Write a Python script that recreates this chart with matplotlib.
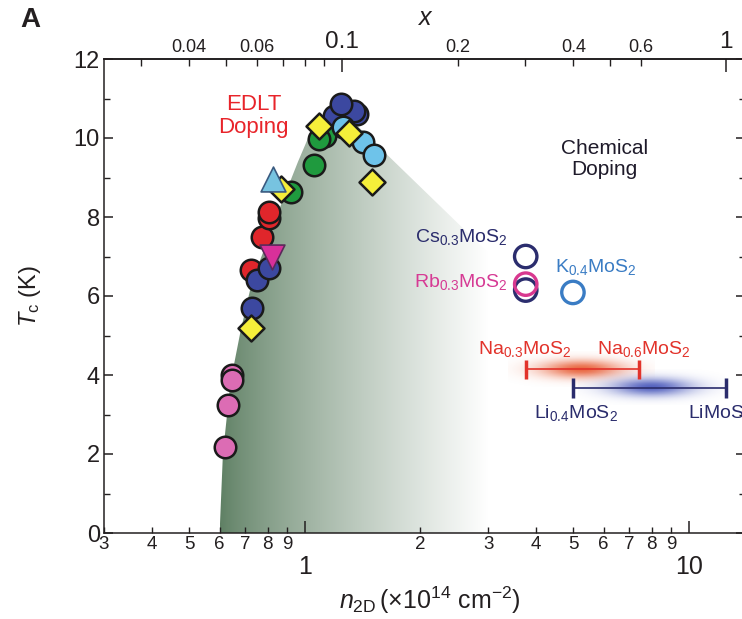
import numpy as np
import matplotlib
matplotlib.use('Agg')
import matplotlib.pyplot as plt
from matplotlib.patches import Polygon

plt.rcParams['font.family'] = ['Liberation Sans', 'DejaVu Sans']
plt.rcParams['mathtext.fontset'] = 'custom'
plt.rcParams['mathtext.rm'] = 'Liberation Sans'
plt.rcParams['mathtext.it'] = 'Liberation Sans:italic'
plt.rcParams['mathtext.bf'] = 'Liberation Sans:bold'

# ---- data (n in 1e14 cm^-2, Tc in K) ----
pink_n = [0.645, 0.645, 0.631, 0.619]
pink_T = [4.00, 3.88, 3.25, 2.18]
red_n = [0.724, 0.773, 0.806, 0.806]
red_T = [6.67, 7.49, 7.97, 8.12]
green_n = [0.92, 1.055, 1.13, 1.09]
green_T = [8.63, 9.32, 10.05, 9.97]
navy_n = [0.728, 0.75, 0.806, 1.19, 1.37, 1.34, 1.24]
navy_T = [5.69, 6.40, 6.72, 10.55, 10.60, 10.69, 10.86]
lblue_n = [1.26, 1.42, 1.51]
lblue_T = [10.28, 9.90, 9.57]
yellow_n = [0.724, 0.866, 1.087, 1.30, 1.50]
yellow_T = [5.18, 8.70, 10.30, 10.13, 8.88]
tri_up_n, tri_up_T = [0.826], [8.96]
tri_dn_n, tri_dn_T = [0.82], [6.98]

# chemical doping
cs_n, cs_T = 3.76, 7.00
rb_n, rb_T = 3.76, 6.30
rb2_n, rb2_T = 3.76, 6.15
k_n, k_T = 4.99, 6.09
na_range, na_T = [3.76, 7.41], 4.14
li_range, li_T = [4.99, 12.5], 3.68
na_peak = 5.24
li_peak = 7.96

# dome outline of the superconducting region
dome_n = [0.60, 0.612, 0.64, 0.68, 0.73, 0.80, 0.866, 0.96, 1.02, 1.10, 1.20, 3.0, 3.0]
dome_T = [0.0, 2.0, 3.8, 5.1, 6.4, 7.4, 8.3, 9.4, 10.0, 10.5, 10.85, 7.1, 0.0]

x_per_n = 1 / 12.5   # x in A_xMoS2 per 1e14 cm^-2

xmin, xmax = 0.3, 14.0
dark = '#231f20'

fig = plt.figure(figsize=(7.42, 6.19), dpi=100)
ax = fig.add_axes([104 / 742, 86 / 619, 641 / 742, 474 / 619])
ax.set_xscale('log')
ax.set_xlim(xmin, xmax)
ax.set_ylim(0, 12)
ax.autoscale(False)

def fx(n):
    return (np.log10(n) - np.log10(xmin)) / (np.log10(xmax) - np.log10(xmin))

# gradient dome
t = np.linspace(0, 1, 256)
c0 = np.array([0.37, 0.50, 0.39])
grad = c0[None, :] + (1 - c0[None, :]) * (t ** 0.8)[:, None]
img = grad[None, :, :]
poly = Polygon(np.column_stack([dome_n, dome_T]), closed=True,
               facecolor='none', edgecolor='none', transform=ax.transData)
ax.add_patch(poly)
im = ax.imshow(img, extent=(fx(0.6), fx(3.0), 0, 1), transform=ax.transAxes,
               aspect='auto', zorder=1, interpolation='bilinear')
im.set_clip_path(poly)

# glows
def glow(center, span, T, dT, rgb):
    u = np.linspace(-1, 1, 200)
    v = np.linspace(-1, 1, 60)
    U, V = np.meshgrid(u, v)
    a = np.exp(-(U / 0.55) ** 2 - (V / 0.5) ** 2)
    rgba = np.zeros((60, 200, 4))
    rgba[..., :3] = rgb
    rgba[..., 3] = a * 0.95
    x0 = fx(center / span)
    x1 = fx(center * span)
    y0 = (T - dT) / 12
    y1 = (T + dT) / 12
    ax.imshow(rgba, extent=(x0, x1, y0, y1), transform=ax.transAxes,
              aspect='auto', zorder=2, interpolation='bilinear')

glow(na_peak, 1.55, na_T, 0.45, (0.91, 0.38, 0.22))
glow(li_peak, 1.55, li_T, 0.45, (0.30, 0.36, 0.74))

# bars
ax.plot(na_range, [na_T, na_T], color='#e2332b', lw=1.2, zorder=3)
ax.vlines(na_range, na_T - 0.25, na_T + 0.25, color='#e2332b', lw=2.5, zorder=3)
ax.plot(li_range, [li_T, li_T], color='#2a2c6c', lw=1.2, zorder=3)
ax.vlines(li_range, li_T - 0.25, li_T + 0.25, color='#2a2c6c', lw=2.5, zorder=3)

# EDLT points
kw = dict(edgecolors='#1a1a1a', linewidths=1.8, zorder=5)
ax.scatter(pink_n, pink_T, s=240, c='#dc6cb4', **kw)
ax.scatter(red_n, red_T, s=240, c='#e0262b', **kw)
ax.scatter(green_n, green_T, s=240, c='#1f9a3e', **kw)
ax.scatter(navy_n, navy_T, s=240, c='#3c48a0', **kw)
ax.scatter(lblue_n, lblue_T, s=240, c='#6ec3ea', **kw)
ax.scatter(yellow_n, yellow_T, s=175, marker='D', c='#f5ef3a', **kw)
ax.scatter(tri_up_n, tri_up_T, s=320, marker='^', c='#77c3e0',
           edgecolors='#3a5a80', linewidths=1.2, zorder=6)
ax.scatter(tri_dn_n, tri_dn_T, s=320, marker='v', c='#d8309a',
           edgecolors='#5a2a5a', linewidths=1.2, zorder=6)

# chemical doping open circles
okw = dict(s=260, facecolors='none', linewidths=2.4, zorder=5)
ax.scatter([cs_n], [cs_T], edgecolors='#2b2d6e', **okw)
ax.scatter([rb2_n], [rb2_T], edgecolors='#2b2d6e', **okw)
ax.scatter([rb_n], [rb_T], edgecolors='#d8388f', **okw)
ax.scatter([k_n], [k_T], edgecolors='#3a7cc4', **okw)

# text
ax.text(0.736, 10.56, 'EDLT\nDoping', color='#e8242a', fontsize=16,
        ha='center', va='center', linespacing=1.1, zorder=7)
ax.text(6.04, 9.47, 'Chemical\nDoping', color='#1e1a2a', fontsize=15,
        ha='center', va='center', linespacing=1.1, zorder=7)
lab = dict(fontsize=14, va='baseline')
ax.text(3.38, 7.36, r'Cs$_{0.3}$MoS$_2$', color='#2a2c6c', ha='right', **lab)
ax.text(3.38, 6.24, r'Rb$_{0.3}$MoS$_2$', color='#d63a94', ha='right', **lab)
ax.text(4.48, 6.62, r'K$_{0.4}$MoS$_2$', color='#3a7cc4', ha='left', **lab)
ax.text(2.82, 4.52, r'Na$_{0.3}$MoS$_2$', color='#e2332b', ha='left', **lab)
ax.text(5.76, 4.52, r'Na$_{0.6}$MoS$_2$', color='#e2332b', ha='left', **lab)
ax.text(3.95, 2.92, r'Li$_{0.4}$MoS$_2$', color='#2a2c6c', ha='left', **lab)
ax.text(9.94, 2.92, r'LiMoS$_2$', color='#2a2c6c', ha='left', clip_on=False, **lab)

# axes styling
for sp in ax.spines.values():
    sp.set_linewidth(1.1)
    sp.set_color(dark)

ax.set_yticks(range(0, 13, 2))
ax.set_yticks(range(1, 13, 2), minor=True)
ax.tick_params(axis='y', which='major', direction='in', length=6.5, width=1.1,
               labelsize=17, colors=dark, right=True, pad=3)
ax.tick_params(axis='y', which='minor', direction='in', length=4, width=1.0,
               colors=dark, right=True)

maj = [1, 10]
mnr = [0.3, 0.4, 0.5, 0.6, 0.7, 0.8, 0.9, 2, 3, 4, 5, 6, 7, 8, 9]
mnr_lab = ['3', '4', '5', '6', '7', '8', '9', '2', '3', '4', '5', '6', '7', '8', '9']
ax.set_xticks(maj, ['1', '10'])
ax.set_xticks(mnr, mnr_lab, minor=True)
ax.tick_params(axis='x', which='major', direction='in', length=9, width=1.1,
               labelsize=18, colors=dark, pad=16, top=False)
ax.tick_params(axis='x', which='minor', direction='in', length=4, width=1.0,
               labelsize=13.5, colors=dark, pad=2, top=False)

secax = ax.secondary_xaxis('top', functions=(lambda n: n * x_per_n,
                                             lambda x: x / x_per_n))
secax.set_xticks([0.1, 1], ['0.1', '1'])
top_minor = [0.03, 0.04, 0.05, 0.06, 0.07, 0.08, 0.09, 0.2, 0.3, 0.4, 0.5, 0.6]
top_lab = ['', '0.04', '', '0.06', '', '', '', '0.2', '', '0.4', '', '0.6']
secax.set_xticks(top_minor, top_lab, minor=True)
secax.tick_params(which='major', direction='in', length=9, width=1.1,
                  labelsize=17.5, colors=dark, pad=4)
secax.tick_params(which='minor', direction='in', length=5, width=1.0,
                  labelsize=13, colors=dark, pad=2)
secax.spines['top'].set_linewidth(1.1)

ax.set_xlabel(r'$n_{\mathrm{2D}}\,$(×10$^{14}$ cm$^{-2}$)', fontsize=18, color=dark)
ax.xaxis.set_label_coords(0.509, -0.108)
ax.set_ylabel(r'$T_{\mathrm{c}}$ (K)', fontsize=17, color=dark)
ax.yaxis.set_label_coords(-0.095, 0.5)

fig.text(425 / 742, 1 - 18 / 619, '$x$', fontsize=18, color=dark,
         ha='center', va='center')
fig.text(30 / 742, 1 - 20 / 619, 'A', fontsize=20, fontweight='bold',
         color=dark, ha='center', va='center')

fig.savefig('out.png', dpi=100)
